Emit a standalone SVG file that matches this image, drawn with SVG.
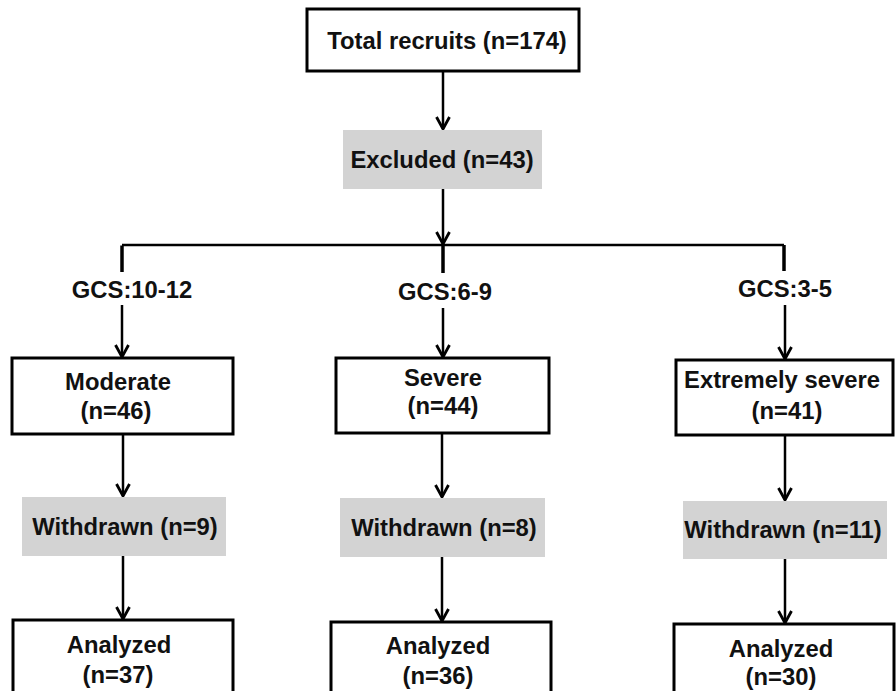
<svg xmlns="http://www.w3.org/2000/svg" width="896" height="691" viewBox="0 0 896 691">
<style>
  .box { fill: #ffffff; stroke: #000000; stroke-width: 3; }
  .gray { fill: #d3d3d3; stroke: none; }
  .t { font-family: "Liberation Sans", Arial, sans-serif; font-weight: bold; font-size: 23.8px; fill: #111111; text-anchor: middle; }
  .ln { stroke: #000000; stroke-width: 2.5; fill: none; }
  .arr { stroke: #000000; stroke-width: 2.5; fill: none; marker-end: url(#ah); }
  .stub { stroke: #000000; stroke-width: 3.5; fill: none; }
</style>
<defs>
  <marker id="ah" markerUnits="userSpaceOnUse" viewBox="-14 -8 16 16" refX="0" refY="0" markerWidth="16" markerHeight="16" orient="auto">
    <path d="M-12,-6.5 L0,0 L-12,6.5" fill="none" stroke="#000000" stroke-width="2.8"/>
  </marker>
</defs>
<rect width="896" height="691" fill="#ffffff"/>

<g id="connectors">
  <line class="arr" x1="443" y1="71" x2="443" y2="129"/>
  <line class="arr" x1="443" y1="189" x2="443" y2="244"/>
  <line class="ln" x1="122" y1="245" x2="784" y2="245" stroke-width="2"/>
  <path class="stub" d="M122,272 L122,245.5"/>
  <line class="stub" x1="443" y1="245" x2="443" y2="273"/>
  <line class="stub" x1="784" y1="245" x2="784" y2="271"/>
  <line class="arr" x1="122" y1="305" x2="122" y2="357"/>
  <line class="arr" x1="443" y1="308" x2="443" y2="357"/>
  <line class="arr" x1="785" y1="305" x2="785" y2="359"/>
  <line class="arr" x1="123" y1="434" x2="123" y2="496"/>
  <line class="arr" x1="442" y1="433" x2="442" y2="497"/>
  <line class="arr" x1="785" y1="435" x2="785" y2="500"/>
  <line class="arr" x1="123" y1="556" x2="123" y2="619"/>
  <line class="arr" x1="442" y1="557" x2="442" y2="621"/>
  <line class="arr" x1="785" y1="559" x2="785" y2="623"/>
</g>

<g id="total">
  <rect class="box" x="307" y="9" width="272" height="62"/>
  <text class="t" x="447" y="49">Total recruits (n=174)</text>
</g>
<g id="excluded">
  <rect class="gray" x="343" y="130" width="199" height="59"/>
  <text class="t" x="442" y="168">Excluded (n=43)</text>
</g>

<g id="gcs1"><text class="t" x="132" y="298">GCS:10-12</text></g>
<g id="gcs2"><text class="t" x="445" y="300">GCS:6-9</text></g>
<g id="gcs3"><text class="t" x="785" y="297">GCS:3-5</text></g>

<g id="moderate">
  <rect class="box" x="12" y="358" width="221" height="76"/>
  <text class="t" x="118" y="390">Moderate</text>
  <text class="t" x="116" y="419">(n=46)</text>
</g>
<g id="severe">
  <rect class="box" x="336" y="358" width="213" height="75"/>
  <text class="t" x="443" y="386">Severe</text>
  <text class="t" x="443" y="414">(n=44)</text>
</g>
<g id="extremely">
  <rect class="box" x="676" y="360" width="217" height="75"/>
  <text class="t" x="782" y="388">Extremely severe</text>
  <text class="t" x="787" y="419">(n=41)</text>
</g>

<g id="withdrawn1">
  <rect class="gray" x="22" y="497" width="204" height="59"/>
  <text class="t" x="125" y="535">Withdrawn (n=9)</text>
</g>
<g id="withdrawn2">
  <rect class="gray" x="340" y="498" width="205" height="59"/>
  <text class="t" x="444" y="536">Withdrawn (n=8)</text>
</g>
<g id="withdrawn3">
  <rect class="gray" x="683" y="501" width="204" height="58"/>
  <text class="t" x="783" y="538">Withdrawn (n=11)</text>
</g>

<g id="analyzed1">
  <rect class="box" x="13" y="620" width="220" height="90"/>
  <text class="t" x="119" y="653">Analyzed</text>
  <text class="t" x="118" y="683">(n=37)</text>
</g>
<g id="analyzed2">
  <rect class="box" x="331" y="622" width="220" height="90"/>
  <text class="t" x="438" y="654">Analyzed</text>
  <text class="t" x="438" y="684">(n=36)</text>
</g>
<g id="analyzed3">
  <rect class="box" x="674" y="624" width="220" height="90"/>
  <text class="t" x="781" y="657">Analyzed</text>
  <text class="t" x="781" y="685">(n=30)</text>
</g>
</svg>
